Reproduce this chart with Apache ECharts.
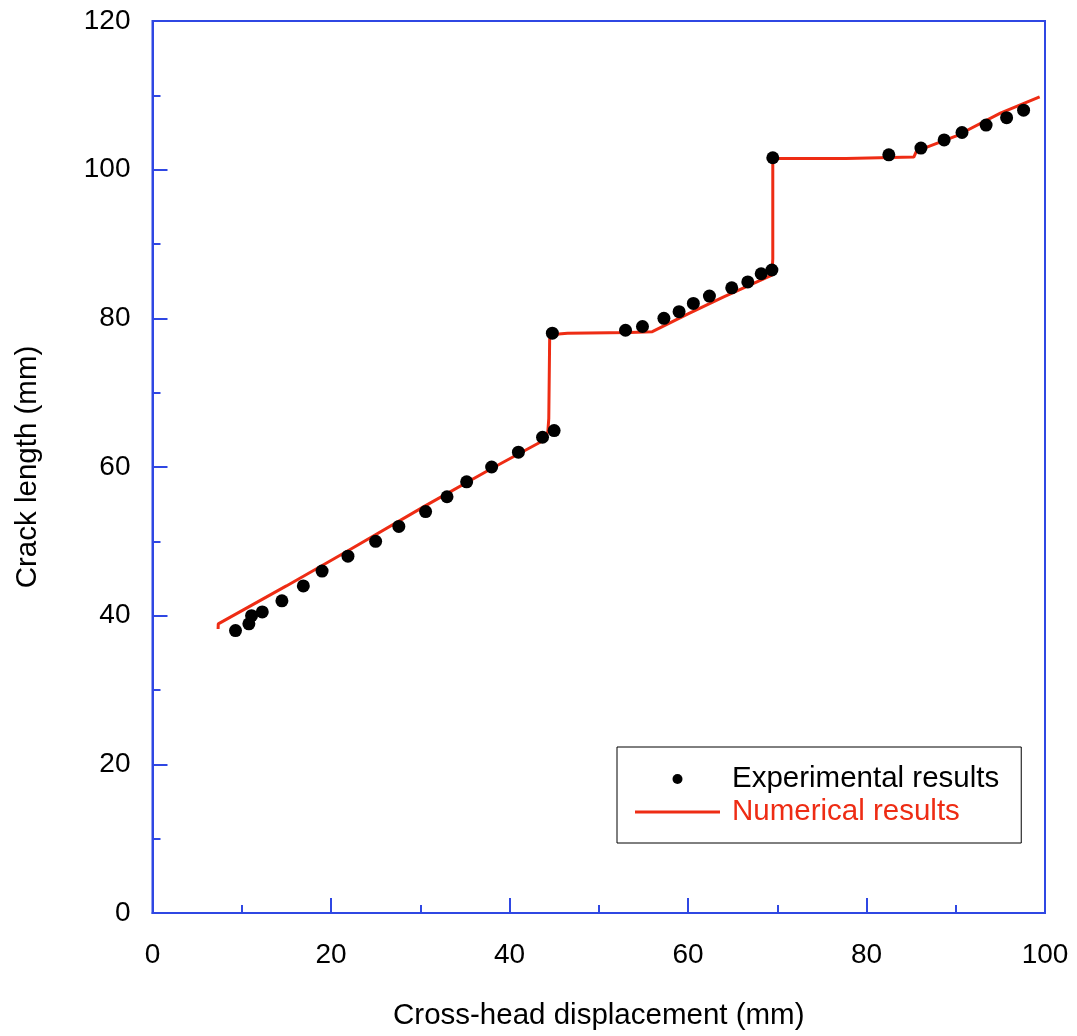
<!DOCTYPE html>
<html>
<head>
<meta charset="utf-8">
<script src="https://cdn.jsdelivr.net/npm/echarts@6/dist/echarts.min.js"></script>
<style>
html,body{margin:0;padding:0;background:#fff;}
#chart{width:1077px;height:1036px;}
</style>
</head>
<body>
<div id="chart"></div>
<script>
// Experimental results: [cross-head displacement (mm), crack length (mm)]
const expX = [9.3, 10.8, 11.1, 12.3, 14.5, 16.9, 19.0, 21.9, 25.0, 27.6, 30.6, 33.0, 35.2, 38.0, 41.0, 43.7, 45.0,
              44.8, 53.0, 54.9, 57.3, 59.0, 60.6, 62.4, 64.9, 66.7, 68.2, 69.4, 69.5,
              82.5, 86.1, 88.7, 90.7, 93.4, 95.7, 97.6];
const expY = [38.0, 38.9, 40.0, 40.5, 42.0, 44.0, 46.0, 48.0, 50.0, 52.0, 54.0, 56.0, 58.0, 60.0, 62.0, 64.0, 64.9,
              78.0, 78.4, 78.9, 80.0, 80.9, 82.0, 83.0, 84.1, 84.9, 86.0, 86.5, 101.6,
              102.0, 102.9, 104.0, 105.0, 106.0, 107.0, 108.0];
// Numerical results
const numX = [7.35, 7.37, 15.0, 22.0, 30.6, 38.0, 44.0, 44.3, 44.4, 44.5, 45.5, 46.5, 53.5, 56.0, 60.0, 64.0, 69.4, 69.5, 69.5,
              77.7, 77.8, 85.3, 85.6, 90.0, 95.0, 99.4];
const numY = [38.2, 38.9, 44.0, 48.8, 54.8, 59.8, 63.7, 64.8, 66.5, 77.3, 77.9, 78.0, 78.1, 78.2, 80.6, 82.9, 85.8, 88.0, 101.5,
              101.5, 101.7, 101.7, 102.5, 104.5, 107.6, 109.8];
const xTicks = {min: 0, max: 100, interval: 20};
const yTicks = {min: 0, max: 120, interval: 20};

const BLUE = '#2f47e3';
const RED = '#ee2c14';
const FONT = 'Liberation Sans, Arial, Helvetica, sans-serif';

const chart = echarts.init(document.getElementById('chart'), null, {renderer: 'canvas'});
const axisCommon = {
  axisLine: {show: true, lineStyle: {color: BLUE, width: 2}},
  axisTick: {show: true, inside: true, length: 15, lineStyle: {color: BLUE, width: 2}},
  minorTick: {show: true, splitNumber: 2, length: 8, lineStyle: {color: BLUE, width: 2}},
  splitLine: {show: false},
  minorSplitLine: {show: false},
  nameLocation: 'middle',
  nameTextStyle: {fontFamily: FONT, fontSize: 29.5, color: '#000'}
};
chart.setOption({
  backgroundColor: '#fff',
  animation: false,
  grid: {left: 152.5, right: 32, top: 21, bottom: 123, show: true, borderColor: BLUE, borderWidth: 2, containLabel: false},
  xAxis: Object.assign({}, axisCommon, {
    type: 'value', min: xTicks.min, max: xTicks.max, interval: xTicks.interval,
    name: 'Cross-head displacement (mm)', nameGap: 88,
    axisLabel: {fontFamily: FONT, fontSize: 28, color: '#000', margin: 28}
  }),
  yAxis: Object.assign({}, axisCommon, {
    type: 'value', min: yTicks.min, max: yTicks.max, interval: yTicks.interval,
    name: 'Crack length (mm)', nameGap: 110,
    axisLabel: {fontFamily: FONT, fontSize: 28, color: '#000', margin: 22}
  }),
  legend: {
    orient: 'vertical', left: 617, top: 747,
    padding: [17, 22, 16, 18], itemGap: 3,
    itemWidth: 85, itemHeight: 10,
    borderColor: '#000', borderWidth: 1,
    textStyle: {fontFamily: FONT, fontSize: 29.5, color: '#000', padding: [0, 0, 0, 7]},
    data: [
      {name: 'Experimental results', icon: 'circle', itemStyle: {color: '#000', opacity: 1}, textStyle: {color: '#000'}},
      {name: 'Numerical results', icon: 'path://M0,0h85v3h-85z', itemStyle: {color: RED}, textStyle: {color: RED}}
    ]
  },
  series: [
    {
      name: 'Numerical results', type: 'line', symbol: 'none', z: 2,
      lineStyle: {color: RED, width: 3}, itemStyle: {color: RED},
      data: numX.map((x, i) => [x, numY[i]])
    },
    {
      name: 'Experimental results', type: 'scatter', symbol: 'circle', symbolSize: 13, z: 3,
      itemStyle: {color: '#000', opacity: 1},
      data: expX.map((x, i) => [x, expY[i]])
    }
  ]
});
</script>
</body>
</html>
